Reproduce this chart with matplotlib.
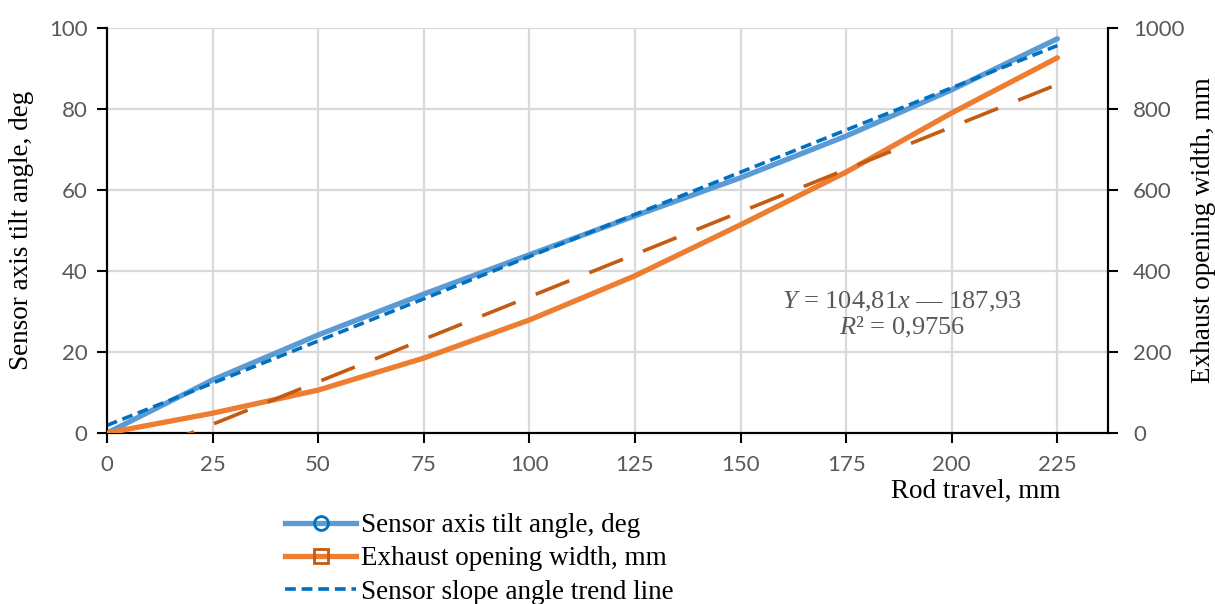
import numpy as np
import matplotlib.pyplot as plt
from matplotlib.lines import Line2D

plt.rcParams['mathtext.fontset'] = 'custom'
plt.rcParams['mathtext.rm'] = 'Liberation Serif'
plt.rcParams['mathtext.it'] = 'Liberation Serif:italic'

# data
rod_travel = [0, 25, 50, 75, 100, 125, 150, 175, 200, 225]
tilt_angle = [0, 13.1, 24.2, 34.3, 44.0, 53.6, 63.0, 73.3, 84.7, 97.3]
exhaust_width = [0, 49, 106, 185, 279, 388, 514, 644, 790, 926]
exh_slope, exh_icpt = 104.81, -187.93  # trend shown on the chart, x = point index

x = np.array(rod_travel, dtype=float)
ang_fit = np.polyfit(x, tilt_angle, 1)
ang_trend = np.polyval(ang_fit, x)
idx = np.arange(1, len(x) + 1)
exh_trend = exh_slope * idx + exh_icpt

GRAY = '#595959'
serif = 'Liberation Serif'
tick_font = 'Lato'

fig = plt.figure(figsize=(12.15, 6.04), dpi=100)
ax = fig.add_axes([0.088, 0.283, 0.824, 0.671])
ax2 = ax.twinx()

ax.plot(x, tilt_angle, color='#5B9BD5', lw=3.8, solid_capstyle='round', zorder=3)
ax.plot(x, ang_trend, color='#0070C0', lw=2.6, dashes=(3, 1.6), zorder=4)
ax2.plot(x, exhaust_width, color='#ED7D31', lw=3.8, solid_capstyle='round', zorder=3)
ax2.plot(x, exh_trend, color='#C55A11', lw=2.6, dashes=(10, 6), zorder=4)

ax.set_xlim(0, 237)
ax.set_ylim(0, 100)
ax2.set_ylim(0, 1000)
ax.set_xticks(rod_travel)
ax.set_yticks(range(0, 101, 20))
ax2.set_yticks(range(0, 1001, 200))
ax.grid(True, color='#D9D9D9', lw=1.6)
ax.set_axisbelow(True)

for a in (ax, ax2):
    a.spines['top'].set_visible(False)
    for s in ('left', 'right', 'bottom'):
        a.spines[s].set_linewidth(1.5)
    a.tick_params(direction='out', length=7, width=1.5, colors='black',
                  labelcolor=GRAY, labelsize=16)
    for lab in a.get_xticklabels() + a.get_yticklabels():
        lab.set_fontfamily(tick_font)
ax.tick_params(axis='y', pad=7)
ax2.tick_params(axis='y', pad=11)
ax.tick_params(axis='x', pad=9)

# axis titles
fig.text(22 / 1215, 0.619, 'Sensor axis tilt angle, deg', rotation=90,
         ha='center', va='center', family=serif, fontsize=19.5)
fig.text(1203 / 1215, 0.619, 'Exhaust opening width, mm', rotation=90,
         ha='center', va='center', family=serif, fontsize=19.5)
ax.set_xlabel('Rod travel, mm', family=serif, fontsize=19.5, ha='right')
ax.xaxis.set_label_coords(0.952, -0.112)

ax.text(0.794, 0.292, r'$Y$ = 104,81$x$ — 187,93' + '\n' + r'$R$² = 0,9756',
        transform=ax.transAxes, ha='center', va='center', family=serif,
        fontsize=19, color=GRAY, linespacing=1.05)

handles = [
    Line2D([], [], color='#5B9BD5', lw=3.8, marker='o', markersize=10,
           markerfacecolor='none', markeredgecolor='#0070C0', markeredgewidth=2),
    Line2D([], [], color='#ED7D31', lw=3.8, marker='s', markersize=10,
           markerfacecolor='none', markeredgecolor='#C55A11', markeredgewidth=2),
    Line2D([], [], color='#0070C0', lw=2.6, dashes=(3, 1.6)),
]
labels = ['Sensor axis tilt angle, deg', 'Exhaust opening width, mm',
          'Sensor slope angle trend line']
fig.legend(handles, labels, loc='upper left', bbox_to_anchor=(0.226, 0.168),
           frameon=False, prop={'family': serif, 'size': 19.5}, handlelength=2.6,
           handletextpad=0.2, labelspacing=0.3, borderaxespad=0)

fig.savefig('out.png', dpi=100)
